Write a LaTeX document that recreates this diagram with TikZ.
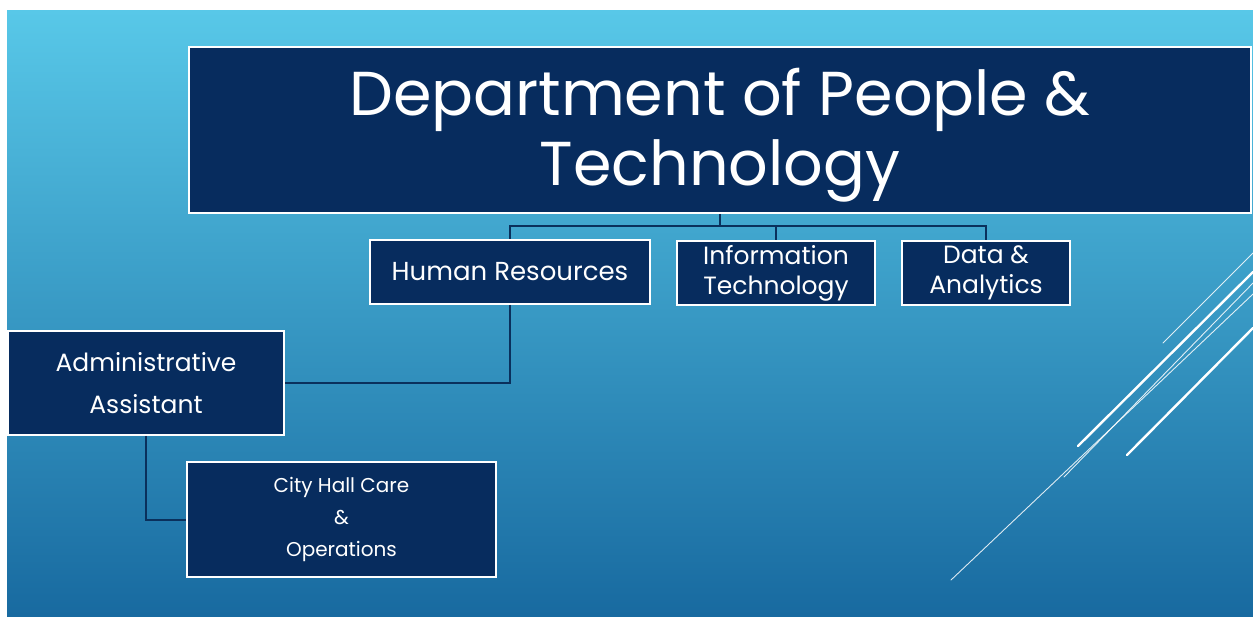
\documentclass[tikz,border=0pt]{standalone}
\usepackage{fontspec}
\setmainfont{Poppins}
\definecolor{bgtop}{RGB}{88,200,232}
\definecolor{bgbot}{RGB}{24,106,160}
\definecolor{boxfill}{RGB}{7,44,94}
\definecolor{conncol}{RGB}{10,48,92}
\tikzset{
  orgbox/.style={draw=white, line width=1.6pt, fill=boxfill, text=white, inner sep=0pt, align=center},
  conn/.style={draw=conncol, line width=2pt},
  deco/.style={draw=white, line cap=round},
}
\begin{document}
\begin{tikzpicture}[x=1pt,y=-1pt]
\useasboundingbox (0,0) rectangle (1253,616);
\fill[white] (0,0) rectangle (1253,616);
\shade[top color=bgtop, bottom color=bgbot] (7,10) rectangle (1253,616);
% decorative lines
\draw[deco, line width=0.9pt, opacity=0.85] (1163,343) -- (1253,253);
\draw[deco, line width=2.4pt] (1078,446) -- (1253,272);
\draw[deco, line width=0.9pt, opacity=0.85] (1064,477) -- (1253,283);
\draw[deco, line width=2.4pt] (1127,455) -- (1253,328);
\draw[deco, line width=0.9pt, opacity=0.85] (951,580) -- (1253,294);
% nodes
\node[orgbox, minimum width=1062, minimum height=166] (title) at (720,130) {};
\node[text=white, inner sep=0pt, align=center, font=\fontsize{62}{70}\selectfont] (titletext) at (720,135) {Department of People \&\\Technology};
\node[orgbox, minimum width=280, minimum height=64, font=\fontsize{26}{30}\selectfont] (hr) at (510,272) {Human Resources};
\node[orgbox, minimum width=198, minimum height=64, font=\fontsize{25}{30}\selectfont] (it) at (776,273) {Information\\Technology};
\node[orgbox, minimum width=168, minimum height=64, font=\fontsize{25}{30}\selectfont] (da) at (986,273) {Data \&\\Analytics};
\node[orgbox, minimum width=276, minimum height=104, font=\fontsize{25}{42}\selectfont] (admin) at (146,383) {Administrative\\Assistant};
\node[orgbox, minimum width=309, minimum height=115, font=\fontsize{20}{32}\selectfont] (city) at (341.5,519.5) {City Hall Care\\\&\\Operations};
% connectors
\coordinate (bus) at (720,226);
\draw[conn] (title.south) -- (bus);
\draw[conn] (bus) -| (hr.north);
\draw[conn] (bus) -| (it.north);
\draw[conn] (bus) -| (da.north);
\draw[conn] (hr.south) |- (admin.east);
\draw[conn] (admin.south) |- (city.west);
\end{tikzpicture}
\end{document}
